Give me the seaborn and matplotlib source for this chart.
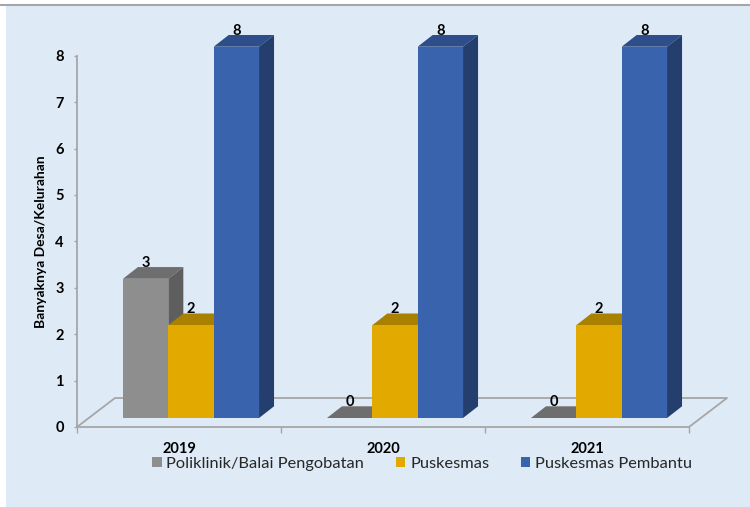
import numpy as np
import pandas as pd
import matplotlib
matplotlib.use("Agg")
import matplotlib.pyplot as plt
import seaborn as sns
from matplotlib.patches import Polygon, Rectangle
from matplotlib.lines import Line2D

years = ['2019', '2020', '2021']
fasilitas = ['Poliklinik/Balai Pengobatan', 'Puskesmas', 'Puskesmas Pembantu']
poliklinik = [3, 0, 0]
puskesmas = [2, 2, 2]
pustu = [8, 8, 8]

front_colors = ['#8E8E8E', '#E2AA00', '#3A63AE']
top_colors = ['#6E6E6E', '#A98000', '#2D4E8A']
side_colors = ['#5E5E5E', '#8A6A00', '#243F6E']
bg = '#DEEAF6'
line_col = '#A6A6A6'

df = pd.DataFrame({
    'Tahun': years * 3,
    'Fasilitas': np.repeat(fasilitas, 3),
    'Jumlah': poliklinik + puskesmas + pustu,
})

sns.set_theme(style='white')
plt.rcParams['font.family'] = ['Lato', 'DejaVu Sans']

W, H = 750, 507
fig = plt.figure(figsize=(W / 100, H / 100), dpi=100)
fig.patch.set_facecolor('white')
fig.add_artist(Rectangle((6 / W, 0), 1 - 6 / W, 1 - 5 / H, transform=fig.transFigure,
                         facecolor=bg, edgecolor='none', zorder=-10))
fig.add_artist(Line2D([0, 1], [1 - 5 / H] * 2, transform=fig.transFigure, color=line_col, lw=1.5))

ax = fig.add_axes([77 / W, 80 / H, 612 / W, 371.3 / H])
ax.set_facecolor('none')
sns.barplot(data=df, x='Tahun', y='Jumlah', hue='Fasilitas', order=years, hue_order=fasilitas,
            palette=front_colors, width=0.667, saturation=1, linewidth=0, legend=False, ax=ax)
ax.set_xlim(-0.5, 2.5)
ax.set_ylim(0, 8)

# pixel -> data conversion for the fake 3D depth
p0 = ax.transData.transform((0, 0))
p1 = ax.transData.transform((1, 1))
sx, sy = p1 - p0
fx, fy = 12 / sx, 9 / sy          # front face shift
dx, dy = 15 / sx, 11.7 / sy       # bar depth
gx, gy = 38 / sx, 29 / sy         # floor depth

# floor
ax.plot([-0.5, -0.5 + gx, 2.5 + gx, 2.5], [0, gy, gy, 0], color=line_col, lw=1.3,
        clip_on=False, zorder=1)

for k, cont in enumerate(ax.containers):
    for bar in cont:
        x0 = bar.get_x() + fx
        w = bar.get_width()
        h = bar.get_height()
        x1 = x0 + w
        bar.set_x(x0)
        bar.set_y(fy)
        bar.set_zorder(3 + k + 0.5)
        bar.set_clip_on(False)
        top = h + fy
        ax.add_patch(Polygon([(x0, top), (x1, top), (x1 + dx, top + dy), (x0 + dx, top + dy)],
                             closed=True, facecolor=top_colors[k], edgecolor='none',
                             zorder=3 + k, clip_on=False))
        ax.add_patch(Polygon([(x1, fy), (x1 + dx, fy + dy), (x1 + dx, top + dy), (x1, top)],
                             closed=True, facecolor=side_colors[k], edgecolor='none',
                             zorder=3 + k, clip_on=False))
        ax.text(x0 + w / 2, top + dy, f'{int(h)}', ha='center', va='baseline',
                fontsize=10.5, fontweight='bold', color='black', zorder=10, clip_on=False)

for s in ['top', 'right']:
    ax.spines[s].set_visible(False)
for s in ['left', 'bottom']:
    ax.spines[s].set_color(line_col)
    ax.spines[s].set_linewidth(1.3)

ax.set_yticks(range(0, 9))
ax.tick_params(axis='y', direction='out', length=2.5, width=1, color=line_col, pad=7,
               labelsize=10.5, labelcolor='black', left=True)
for t in ax.get_yticklabels():
    t.set_fontweight('bold')

ax.set_xticks([-0.5, 0.5, 1.5, 2.5], labels=[])
ax.set_xticks([0, 1, 2], labels=years, minor=True)
ax.tick_params(axis='x', which='major', direction='out', length=4, width=1, color=line_col, bottom=True)
ax.tick_params(axis='x', which='minor', length=0, pad=11, labelsize=10.5, labelcolor='black')
for t in ax.get_xticklabels(minor=True):
    t.set_fontweight('bold')

ax.set_xlabel('')
ax.set_ylabel('Banyaknya Desa/Kelurahan', fontsize=10, fontweight='bold', color='black')
ax.yaxis.set_label_coords(-30 / 612, 0.5)

handles = [Rectangle((0, 0), 1, 1, facecolor=c, edgecolor='none') for c in front_colors]
fig.legend(handles, fasilitas, loc='center', bbox_to_anchor=(422 / W, 43 / H), ncol=3,
           frameon=False, fontsize=11.8, handlelength=0.6, handleheight=0.6,
           handletextpad=0.3, columnspacing=1.9)

fig.savefig('out.png', dpi=100, facecolor=fig.get_facecolor())
